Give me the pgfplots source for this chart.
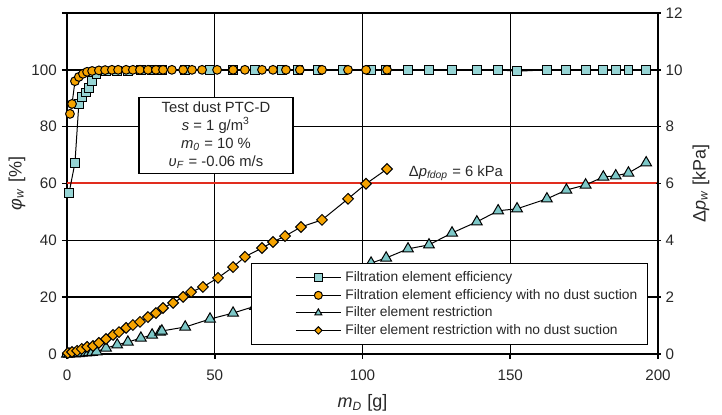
\documentclass[border=0pt]{standalone}
\usepackage{pgfplots}
\pgfplotsset{compat=1.18}
\usepackage{fontspec}
\setmainfont{Liberation Sans}
\definecolor{cy}{RGB}{150,212,212}
\definecolor{cyt}{RGB}{125,200,200}
\definecolor{og}{RGB}{245,163,0}
\definecolor{rl}{RGB}{225,45,30}
\definecolor{tx}{RGB}{40,40,40}
\begin{document}
\fontsize{7.2}{8.6}\selectfont
\begin{tikzpicture}
\pgfplotsset{
  base/.style={width=295.5pt, height=170.5pt, scale only axis, xmin=0, xmax=200,
    /pgf/number format/assume math mode=true,
    tick label style={font=\fontsize{7.6}{9}\selectfont, text=tx},
    label style={font=\fontsize{9}{10.5}\selectfont, text=tx},
    axis line style={line width=1.25pt},
    major tick style={line width=0.8pt, black},
    major tick length=2.5pt},
}
\begin{axis}[base, ymin=0, ymax=120,
  ytick={0,20,40,60,80,100,120}, yticklabels={0,20,40,60,80,100,{}},
  xtick={0,50,100,150,200}, tick align=outside, ytick pos=left, xtick pos=bottom,
  xticklabel style={yshift=-3pt},
  grid=major, major grid style={line width=0.7pt, black},
  xlabel={\textit{m}\textsubscript{\textit{D}} [g]},
  ylabel={\textit{φ}\textsubscript{\textit{w}} [\%]},
  xlabel style={yshift=-2pt}, ylabel style={yshift=-2pt},
  clip=false]
\addplot[rl, line width=1pt, forget plot] coordinates {(0,60) (200,60)};
% Filtration element efficiency
\addplot[black, line width=0.5pt, mark=square*, mark size=2.2pt, mark options={fill=cy, draw=black, line width=0.5pt}, forget plot] table {
x y
0.7 56.7
2.7 67.3
4.0 88
5.0 90.5
6.4 92
7.4 93.7
8.5 96
10 98.5
13.2 99.4
17 99.6
20.6 99.7
25 99.8
28.8 99.8
31.5 99.9
32.1 99.9
40 99.9
48.4 100
56.2 100
63.6 100
72.8 100
78.2 100
84.9 100
93.4 100
102.9 100
108 100
115.4 100
122.5 100
130.3 100
138.7 100
145.9 100
152.3 99.5
162.4 100
169 100
175.5 100
181.5 100
185.7 100
190 100
196 100
};
% Filtration element efficiency with no dust suction
\addplot[black, line width=0.5pt, mark=*, mark size=2.2pt, mark options={fill=og, draw=black, line width=0.5pt}, forget plot] table {
x y
1.0 84.5
1.7 88
2.7 96
4.0 97.5
5.4 98.6
6.8 99.3
8.5 99.6
10.8 99.8
12.9 99.9
15.2 100
17.3 100
20.0 100
22.3 100
24.7 100
27.4 100
30.1 100
32.5 100
35.5 100
39.3 100
42.3 100
45.7 100
50.8 100
56.2 100
60.2 100
66.0 100
69.7 100
74.1 100
78.8 100
86.3 100
95.1 100
101.2 100
108.3 100
};
\node[draw=black, line width=0.6pt, fill=white, align=center, minimum width=77pt, minimum height=38pt, inner sep=2pt, text=tx, font=\fontsize{7.4}{8.8}\selectfont] at (axis cs:50.4,77)
  {Test dust PTC-D\\[0.1pt] \textit{s} = 1 g/m\textsuperscript{3}\\[0.1pt] \textit{m}\textsubscript{\textit{0}} = 10 \%\\[0.1pt] \textit{υ}\textsubscript{\textit{F}} = -0.06 m/s};
\node[text=tx, font=\fontsize{7.4}{8.6}\selectfont] at (axis cs:131.6,63.6) {Δ\textit{p}\textsubscript{\textit{fdop}} = 6 kPa};
\end{axis}
\begin{axis}[base, ymin=0, ymax=12, ytick={0,2,...,12},
  axis y line*=right, axis x line=none, tick align=center,
  ylabel={Δ\textit{p}\textsubscript{\textit{w}} [kPa]},
  legend style={at={(rel axis cs:0.983,0.026)}, anchor=south east, draw=black, line width=0.6pt, fill=white,
    font=\fontsize{6.9}{8.2}\selectfont, text=tx, row sep=-1.3pt, inner ysep=2pt},
  legend cell align=left,
  legend image code/.code={\path[draw=none, fill=none] (-19pt,-1pt) rectangle (0pt,1pt);
    \draw[mark repeat=2,mark phase=2,#1] plot coordinates {(0pt,0pt) (11.25pt,0pt) (22.5pt,0pt)};}]
\addlegendimage{black, line width=0.5pt, mark=square*, mark size=2pt, mark options={fill=cy, draw=black, line width=0.5pt}}
\addlegendentry{Filtration element efficiency}
\addlegendimage{black, line width=0.5pt, mark=*, mark size=2pt, mark options={fill=og, draw=black, line width=0.5pt}}
\addlegendentry{Filtration element efficiency with no dust suction}
\addlegendimage{black, line width=0.5pt, mark=triangle*, mark size=2pt, mark options={fill=cyt, draw=black, line width=0.5pt}}
\addlegendentry{Filter element restriction}
\addlegendimage{black, line width=0.5pt, mark=square*, mark size=1.3pt, mark options={rotate=45, fill=og, draw=black, line width=0.5pt}}
\addlegendentry{Filter element restriction with no dust suction}
% Filter element restriction
\addplot[black, line width=0.5pt, mark=triangle*, mark size=3.1pt, mark options={fill=cyt, draw=black, line width=0.5pt}, forget plot] table {
x y
0 0
0.7 0.00
2.7 0.01
4.0 0.02
5.0 0.03
6.4 0.04
7.4 0.05
8.5 0.06
10 0.08
13.2 0.21
17 0.32
20.6 0.42
25 0.56
28.8 0.67
31.5 0.77
32.1 0.81
40 0.95
48.4 1.23
56.2 1.44
63.6 1.68
72.8 2.00
78.2 2.25
84.9 2.55
93.4 2.90
102.9 3.20
108 3.38
115.4 3.70
122.5 3.84
130.3 4.26
138.7 4.65
145.9 5.04
152.3 5.11
162.4 5.46
169 5.77
175.5 5.95
181.5 6.23
185.7 6.27
190 6.37
196 6.73
};
% Filter element restriction with no dust suction
\addplot[black, line width=0.5pt, mark=square*, mark size=1.9pt, mark options={rotate=45, fill=og, draw=black, line width=0.5pt}, forget plot] table {
x y
0.3 0.035
1.7 0.07
3.4 0.11
5.0 0.18
6.8 0.25
8.8 0.28
10.8 0.39
13.2 0.53
15.6 0.67
17.6 0.77
20.0 0.92
22.3 1.02
24.7 1.13
27.4 1.30
30.1 1.44
32.5 1.62
35.9 1.80
39.3 2.01
42.0 2.18
46.0 2.36
51.1 2.68
56.2 3.06
60.2 3.42
66.0 3.73
69.7 3.94
73.8 4.15
79.2 4.47
86.3 4.72
95.1 5.46
101.2 5.99
108.3 6.51
};
\end{axis}
\pgfresetboundingbox
\path[use as bounding box] ([shift={(-33.5pt,-30.5pt)}]current axis.south west) rectangle ++(361pt,207.5pt);
\end{tikzpicture}
\end{document}
